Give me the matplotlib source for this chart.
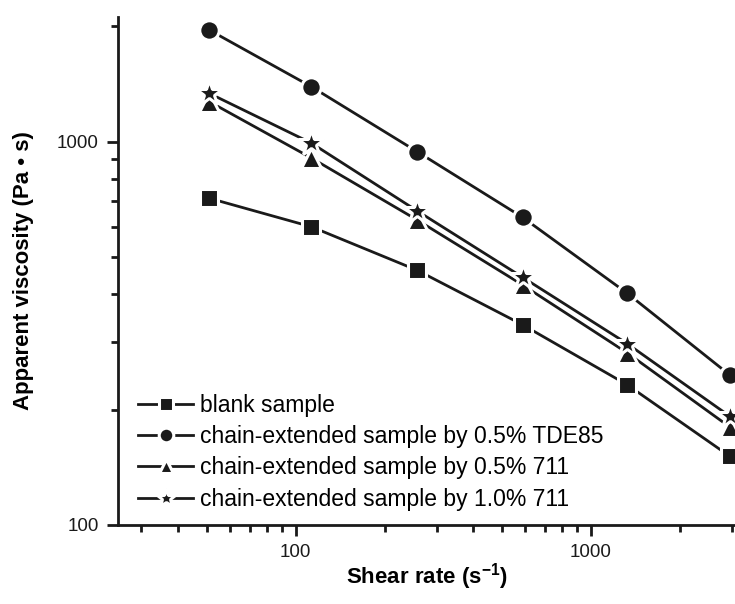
import numpy as np
import matplotlib
matplotlib.use("Agg")
import matplotlib.pyplot as plt
from matplotlib.ticker import LogLocator, NullFormatter, FixedLocator, FixedFormatter

plt.rcParams['font.family'] = ['Liberation Sans', 'DejaVu Sans']
plt.rcParams['mathtext.fontset'] = 'custom'
plt.rcParams['mathtext.rm'] = 'Liberation Sans'
plt.rcParams['mathtext.bf'] = 'Liberation Sans:bold'

# ---- data ---------------------------------------------------
shear_rate = [51, 113, 258, 587, 1330, 2960]

blank = [712, 600, 462, 333, 232, 151]
tde85_05 = [1956, 1392, 942, 635, 402, 246]
e711_05 = [1272, 907, 625, 423, 281, 180]
e711_10 = [1337, 992, 660, 443, 297, 192]

labels = ['blank sample',
          'chain-extended sample by 0.5% TDE85',
          'chain-extended sample by 0.5% 711',
          'chain-extended sample by 1.0% 711']
markers = ['s', 'o', '^', '*']
msizes = [13, 14, 14, 19]

# ---- figure --------------------------------------------------
fig = plt.figure(figsize=(7.35, 6.04), dpi=100)
ax = fig.add_axes([0.1605, 0.1308, 0.8395, 0.8416])

series = [blank, tde85_05, e711_05, e711_10]
for vals, lab, mk, ms in zip(series, labels, markers, msizes):
    ax.plot(shear_rate, vals, color='#1a1a1a', lw=2.0, marker=mk, ms=ms,
            markerfacecolor='#1a1a1a', markeredgecolor='white',
            markeredgewidth=2.2, label=lab, clip_on=False, zorder=3)

ax.set_xscale('log')
ax.set_yscale('log')
ax.set_xlim(25, 3078)
ax.set_ylim(100, 2120)

ax.xaxis.set_major_locator(FixedLocator([100, 1000]))
ax.xaxis.set_major_formatter(FixedFormatter(['100', '1000']))
ax.xaxis.set_minor_locator(LogLocator(base=10, subs=np.arange(2, 10), numticks=20))
ax.xaxis.set_minor_formatter(NullFormatter())
ax.yaxis.set_major_locator(FixedLocator([100, 1000]))
ax.yaxis.set_major_formatter(FixedFormatter(['100', '1000']))
ax.yaxis.set_minor_locator(LogLocator(base=10, subs=np.arange(2, 10), numticks=20))
ax.yaxis.set_minor_formatter(NullFormatter())

for s in ['top', 'right']:
    ax.spines[s].set_visible(False)
for s in ['left', 'bottom']:
    ax.spines[s].set_linewidth(2.0)
    ax.spines[s].set_color('#1a1a1a')

ax.tick_params(which='major', direction='out', length=8, width=2, labelsize=13.5,
               colors='#1a1a1a', pad=6)
ax.tick_params(which='minor', direction='out', length=5, width=2, colors='#1a1a1a')

ax.set_xlabel(r'Shear rate (s$^{\mathbf{-1}}$)', fontsize=16, fontweight='bold',
              labelpad=0)
ax.set_ylabel('Apparent viscosity (Pa \u2022 s)', fontsize=16, fontweight='bold',
              labelpad=16)

leg = ax.legend(loc='upper left', bbox_to_anchor=(0.033, 0.258), frameon=False,
                fontsize=16.5, handlelength=2.4, handletextpad=0.3,
                labelspacing=0.36, borderpad=0, borderaxespad=0, markerscale=0.75)

fig.savefig('out.png', dpi=100)
